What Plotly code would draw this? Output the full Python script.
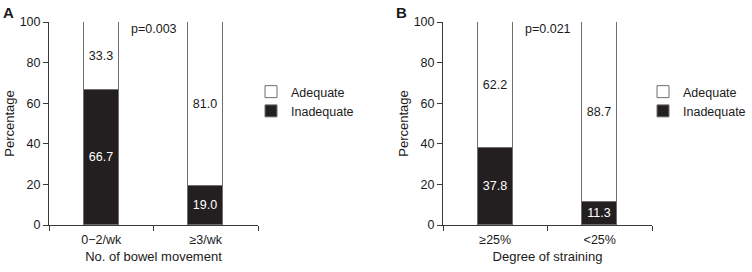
import plotly.graph_objects as go

# Panel A data
cats_a = ["0\u22122/wk", "\u22653/wk"]
inadequate_a = [66.7, 19.0]
adequate_a = [33.3, 81.0]
p_a = "p=0.003"
xtitle_a = "No. of bowel movement"

# Panel B data
cats_b = ["\u226525%", "<25%"]
inadequate_b = [37.8, 11.3]
adequate_b = [62.2, 88.7]
p_b = "p=0.021"
xtitle_b = "Degree of straining"

yticks = [0, 20, 40, 60, 80, 100]

FONT = "Liberation Sans, Arial, Helvetica, sans-serif"
DARK = "#231f20"
EDGE = "#6e6e6e"
AX = "#3a3a3a"
W, H = 752, 272

fig = go.Figure()

def add_panel(cats, inad, adeq, xa, ya, legend):
    fig.add_trace(go.Bar(
        x=cats, y=inad, name="Inadequate", xaxis=xa, yaxis=ya,
        marker=dict(color=DARK, line=dict(color=EDGE, width=1)),
        text=[f"{v:.1f}" for v in inad], textposition="inside",
        insidetextanchor="middle", textangle=0,
        textfont=dict(color="white", size=12.5, family=FONT),
        constraintext="none", width=0.335, legend=legend))
    fig.add_trace(go.Bar(
        x=cats, y=adeq, name="Adequate", xaxis=xa, yaxis=ya,
        marker=dict(color="white", line=dict(color=EDGE, width=1)),
        text=[f"{v:.1f}" for v in adeq], textposition="inside",
        insidetextanchor="middle", textangle=0,
        textfont=dict(color="#1a1a1a", size=12.5, family=FONT),
        constraintext="none", width=0.335, legend=legend))

add_panel(cats_a, inadequate_a, adequate_a, "x", "y", "legend")
add_panel(cats_b, inadequate_b, adequate_b, "x2", "y2", "legend2")

ML, MR, MT, MB = 0, 0, 22, 47
pw = W - ML - MR
ph = H - MT - MB

def px_x(px):
    return (px - ML) / pw

def px_y(py):
    return (H - MB - py) / ph

xcommon = dict(type="category", range=[-0.5, 1.5], showline=True, linecolor=AX,
               linewidth=1, ticks="outside", tickson="boundaries", ticklen=5,
               tickcolor=AX, showgrid=False, zeroline=False, automargin=False,
               ticklabelstandoff=3,
               tickfont=dict(size=12.5, color="#1a1a1a", family=FONT),
               title_font=dict(size=13, color="#1a1a1a", family=FONT),
               title_standoff=5, fixedrange=True)
ycommon = dict(range=[0, 100], tickvals=yticks, showline=True, linecolor=AX,
               linewidth=1, ticks="outside", ticklen=5, tickcolor=AX,
               showgrid=False, zeroline=False, automargin=False,
               tickfont=dict(size=12.5, color="#1a1a1a", family=FONT),
               title_font=dict(size=13, color="#1a1a1a", family=FONT),
               title_text="Percentage", title_standoff=2, fixedrange=True)

fig.update_layout(
    width=W, height=H, margin=dict(l=ML, r=MR, t=MT, b=MB, autoexpand=False),
    paper_bgcolor="white", plot_bgcolor="white",
    barmode="stack", bargap=0,
    font=dict(family=FONT, size=12, color="#1a1a1a"),
    xaxis=dict(domain=[px_x(49), px_x(258)], anchor="y", title_text=xtitle_a, **xcommon),
    yaxis=dict(domain=[0, 1], anchor="x", **ycommon),
    xaxis2=dict(domain=[px_x(443), px_x(652)], anchor="y2", title_text=xtitle_b, **xcommon),
    yaxis2=dict(domain=[0, 1], anchor="x2", **ycommon),
    legend=dict(x=px_x(251), y=px_y(77), xanchor="left", yanchor="top",
                font=dict(size=12.5, family=FONT), bgcolor="rgba(0,0,0,0)",
                tracegroupgap=0, itemwidth=30),
    legend2=dict(x=px_x(643), y=px_y(77), xanchor="left", yanchor="top",
                 font=dict(size=12.5, family=FONT), bgcolor="rgba(0,0,0,0)",
                 tracegroupgap=0, itemwidth=30),
    showlegend=True,
)

annotations = [
    dict(text="<b>A</b>", x=px_x(8), y=px_y(13), xref="paper", yref="paper",
         xanchor="center", yanchor="middle", showarrow=False, font=dict(size=15, family=FONT)),
    dict(text="<b>B</b>", x=px_x(401), y=px_y(13), xref="paper", yref="paper",
         xanchor="center", yanchor="middle", showarrow=False, font=dict(size=15, family=FONT)),
    dict(text=p_a, x=0.5, y=100, xref="x", yref="y", xanchor="center", yanchor="top",
         yshift=2, showarrow=False, font=dict(size=12.5, family=FONT)),
    dict(text=p_b, x=0.5, y=100, xref="x2", yref="y2", xanchor="center", yanchor="top",
         yshift=2, showarrow=False, font=dict(size=12.5, family=FONT)),
]
fig.update_layout(annotations=annotations)

fig.write_html("out.html", config=dict(displayModeBar=False),
               post_script="document.body.style.margin='0';document.body.style.padding='0';")
